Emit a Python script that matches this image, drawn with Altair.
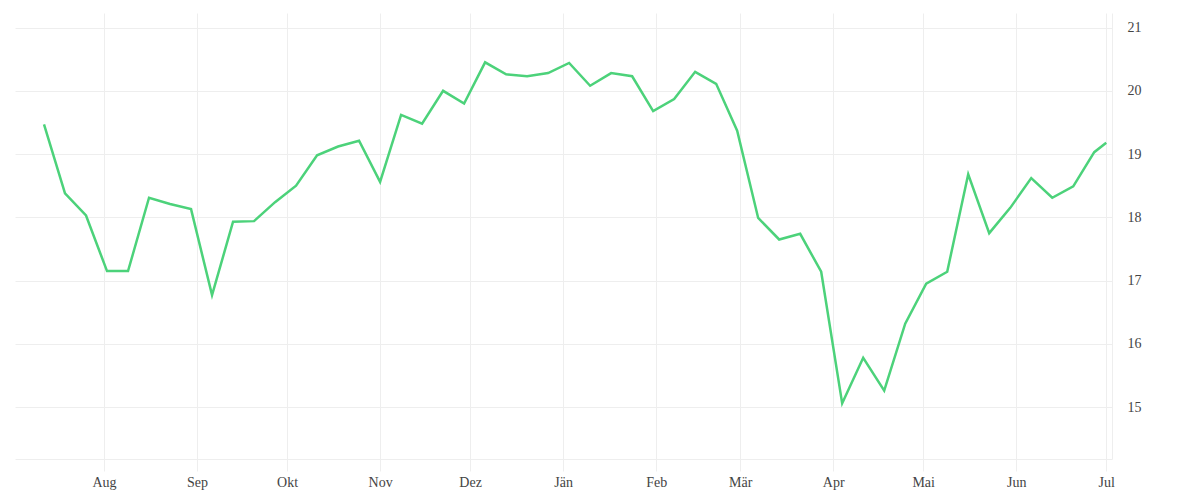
import altair as alt
import pandas as pd
import datetime as dt

start = dt.date(2018, 7, 12)
weekly_dates = [(start + dt.timedelta(days=7 * i)).isoformat() + "T00:00:00" for i in range(51)]
dates = weekly_dates + ["2019-07-01T00:00:00"]

values = [
    19.47, 18.38, 18.03, 17.15, 17.15, 18.31, 18.21, 18.13, 16.77, 17.93,
    17.94, 18.24, 18.50, 18.98, 19.12, 19.21, 18.56, 19.62, 19.48, 20.00,
    19.80, 20.45, 20.26, 20.23, 20.28, 20.44, 20.08, 20.28, 20.23, 19.68,
    19.87, 20.30, 20.11, 19.37, 17.99, 17.65, 17.74, 17.14, 15.06, 15.78,
    15.26, 16.32, 16.95, 17.14, 18.68, 17.75, 18.15, 18.62, 18.31, 18.49,
    19.03, 19.18,
]

month_labels = ["Jän", "Feb", "Mär", "Apr", "Mai", "Jun", "Jul", "Aug", "Sep", "Okt", "Nov", "Dez"]
y_ticks = [15, 16, 17, 18, 19, 20, 21]

df = pd.DataFrame({"date": dates, "value": values})

label_expr = "[" + ",".join("'" + m + "'" for m in month_labels) + "][month(datum.value)]"

chart = alt.Chart(df).mark_line(color="#4cd27a", strokeWidth=2.5, clip=True).encode(
    x=alt.X(
        "date:T",
        scale=alt.Scale(
            domain=[
                alt.DateTime(year=2018, month=7, date=2, hours=8),
                alt.DateTime(year=2019, month=7, date=2, hours=22),
            ]
        ),
        axis=alt.Axis(
            title=None,
            tickCount={"interval": "month", "step": 1},
            labelExpr=label_expr,
            grid=True,
            gridColor="#eeeeee",
            domainColor="#eeeeee",
            tickColor="#eeeeee",
            tickSize=12,
            labelPadding=4,
            labelFont="Liberation Serif",
            labelFontSize=14,
            labelColor="#444444",
            labelFlush=False,
        ),
    ),
    y=alt.Y(
        "value:Q",
        scale=alt.Scale(domain=[14.18, 21.23], nice=False, zero=False),
        axis=alt.Axis(
            title=None,
            orient="right",
            values=y_ticks,
            grid=True,
            gridColor="#eeeeee",
            domainColor="#eeeeee",
            ticks=False,
            labelPadding=15,
            labelFont="Liberation Serif",
            labelFontSize=14,
            labelColor="#444444",
        ),
    ),
).properties(
    width=1097,
    height=446,
    padding={"left": 7, "top": 5, "right": 5, "bottom": 5},
).configure_view(stroke=None)

chart.save("out.html", embed_options={"renderer": "svg", "actions": False})
